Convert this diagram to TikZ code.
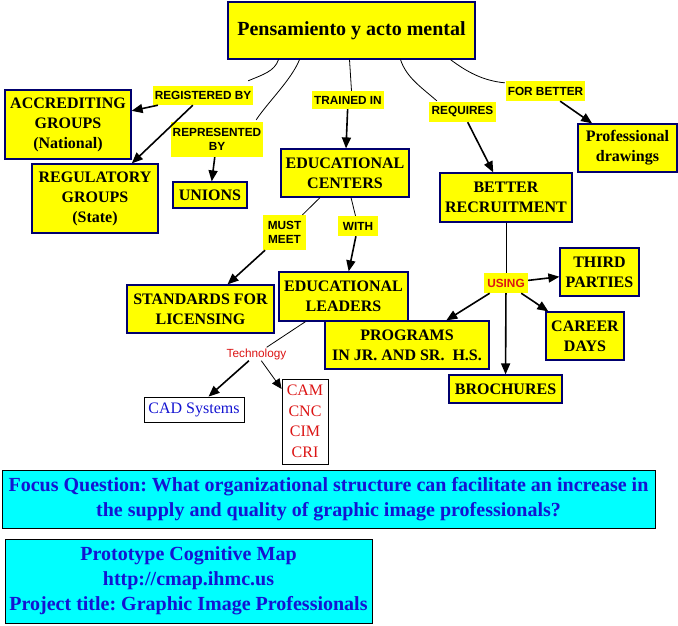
\documentclass[tikz,border=0pt]{standalone}
\usepackage{fontspec}
\setmainfont{Liberation Serif}
\newfontfamily\cmapSans{Liberation Sans}
\usetikzlibrary{arrows.meta}
\definecolor{cmapYellow}{RGB}{255,255,0}
\definecolor{cmapNavy}{RGB}{0,0,110}
\definecolor{cmapCyan}{RGB}{0,255,255}
\definecolor{cmapBlue}{RGB}{20,20,210}
\definecolor{cmapRed}{RGB}{220,20,20}
\frenchspacing

\begin{document}
\begin{tikzpicture}[x=1pt, y=-1pt,
  concept/.style={draw=cmapNavy, fill=cmapYellow, line width=1.2pt,
    inner sep=0pt, align=center, font=\fontsize{16}{20}\selectfont\bfseries},
  linkword/.style={fill=cmapYellow, inner sep=0pt, align=center,
    font=\cmapSans\fontsize{11.8}{14.5}\selectfont\bfseries},
  leafbox/.style={draw=black, fill=white, line width=0.8pt, inner sep=0pt, align=center,
    font=\fontsize{16}{20}\selectfont},
  infobox/.style={draw=black, fill=cmapCyan, line width=1pt, inner sep=0pt, align=center,
    text=cmapBlue, font=\fontsize{20}{25}\selectfont\bfseries},
  relation/.style={draw=black, line width=0.8pt},
  linkarrow/.style={draw=black, line width=1.6pt, -{Triangle[length=11pt,width=9pt]}},
  thinarrow/.style={draw=black, line width=0.8pt, -{Triangle[length=10pt,width=9pt]}}]
% Concept map laid out on the pixel grid (y runs down)
% Background
\path[fill=white] (0,0) rectangle (678,625);
% Root concept
\node[concept, minimum width=247pt, minimum height=57pt, font=\fontsize{20}{24}\selectfont\bfseries] (main) at (351.5,30.5) {Pensamiento y acto mental};
% Concepts
\node[concept, minimum width=126pt, minimum height=69pt] (accrediting) at (68,124.5) {ACCREDITING\\GROUPS\\(National)};
\node[concept, minimum width=126pt, minimum height=69pt] (regulatory) at (95,198.5) {REGULATORY\\GROUPS\\(State)};
\node[concept, minimum width=74pt, minimum height=26pt] (unions) at (210,195) {UNIONS};
\node[concept, minimum width=128pt, minimum height=48pt] (centers) at (345,173) {EDUCATIONAL\\CENTERS};
\node[concept, minimum width=99pt, minimum height=48pt] (drawings) at (627.5,148) {Professional\\drawings};
\node[concept, minimum width=132pt, minimum height=49pt] (recruitment) at (506,197.5) {BETTER\\RECRUITMENT};
\node[concept, minimum width=147pt, minimum height=48pt] (standards) at (200.5,309) {STANDARDS FOR\\LICENSING};
\node[concept, minimum width=129pt, minimum height=49pt] (leaders) at (343.5,296.5) {EDUCATIONAL\\LEADERS};
\node[concept, minimum width=79pt, minimum height=48pt] (thirdparties) at (599.5,272) {THIRD\\PARTIES};
\node[concept, minimum width=78pt, minimum height=48pt] (careerdays) at (585,336) {CAREER\\DAYS};
\node[concept, minimum width=164pt, minimum height=48pt] (programs) at (407,345) {PROGRAMS\\IN JR. AND SR.\ \ H.S.};
\node[concept, minimum width=113pt, minimum height=28pt] (brochures) at (505.5,389) {BROCHURES};
% Linking phrases
\node[linkword, minimum width=100pt, minimum height=19pt] (registered) at (203,95.5) {REGISTERED BY};
\node[linkword, minimum width=92pt, minimum height=35pt] (represented) at (217,139.5) {REPRESENTED\\BY};
\node[linkword, minimum width=72pt, minimum height=18pt] (trained) at (348,100) {TRAINED IN};
\node[linkword, minimum width=67pt, minimum height=20pt] (requires) at (462.5,112) {REQUIRES};
\node[linkword, minimum width=79pt, minimum height=20pt] (forbetter) at (545.5,91) {FOR BETTER};
\node[linkword, minimum width=43pt, minimum height=35pt] (mustmeet) at (284.5,232.5) {MUST\\MEET};
\node[linkword, minimum width=40pt, minimum height=20pt] (with) at (358,226) {WITH};
\node[linkword, text=cmapRed, minimum width=44pt, minimum height=20pt] (using) at (506,283) {USING};
\node[inner sep=1pt, text=cmapRed, font=\cmapSans\fontsize{11.8}{14}\selectfont] (technology) at (256.5,354) {Technology};
% Leaf boxes
\node[leafbox, text=cmapBlue, minimum width=100pt, minimum height=25pt] (cad) at (194,409.5) {CAD Systems};
\node[leafbox, text=cmapRed, minimum width=46pt, minimum height=85pt, font=\fontsize{16}{20.5}\selectfont] (cam) at (305,421.5) {CAM\\CNC\\CIM\\CRI};
% Focus question and title
\node[infobox, minimum width=653pt, minimum height=58pt] (focus) at (328.5,499) {Focus Question: What organizational structure can facilitate an increase in\\the supply and quality of graphic image professionals?};
\node[infobox, minimum width=367pt, minimum height=84pt] (prototype) at (188.5,581) {Prototype Cognitive Map\\http://cmap.ihmc.us\\Project title: Graphic Image Professionals};
% Lines out of the root
\draw[relation] ([xshift=-73pt]main.south) .. controls +(-4,12) and +(14,-6) .. ([xshift=-5pt,yshift=5pt]registered.north east);
\draw[relation] ([xshift=-52pt]main.south) .. controls +(-8,20) and +(12,-18) .. ([xshift=-7pt,yshift=2pt]represented.north east);
\draw[relation] ([xshift=-2pt]main.south) -- (trained.north -| main.south);
\draw[relation] ([xshift=49pt]main.south) .. controls +(6,18) and +(-16,-14) .. ([xshift=8pt,yshift=1pt]requires.north west);
\draw[relation] ([xshift=99pt]main.south) .. controls +(16,12) and +(-22,-2) .. ([xshift=-1pt,yshift=-2pt]forbetter.north west);
% Arrows from linking phrases
\draw[linkarrow] (registered) -- (accrediting);
\draw[linkarrow] (registered) -- (regulatory);
\draw[linkarrow] (represented) -- (unions);
\draw[linkarrow] (trained) -- (centers);
\draw[linkarrow] (requires) -- (recruitment);
\draw[linkarrow] (forbetter) -- (drawings);
\draw[relation] (centers) -- (mustmeet);
\draw[linkarrow] (mustmeet) -- (standards);
\draw[relation] (centers) -- (with);
\draw[linkarrow] (with) -- (leaders);
\draw[relation] (leaders) -- (technology);
\draw[linkarrow] (technology) -- (cad);
\draw[thinarrow] (technology) -- (cam);
\draw[relation] (recruitment) -- (using);
\draw[linkarrow] (using) -- (thirdparties);
\draw[linkarrow] (using) -- (careerdays);
\draw[linkarrow] (using) -- (programs);
\draw[linkarrow] (using) -- (brochures);
\end{tikzpicture}
\end{document}
